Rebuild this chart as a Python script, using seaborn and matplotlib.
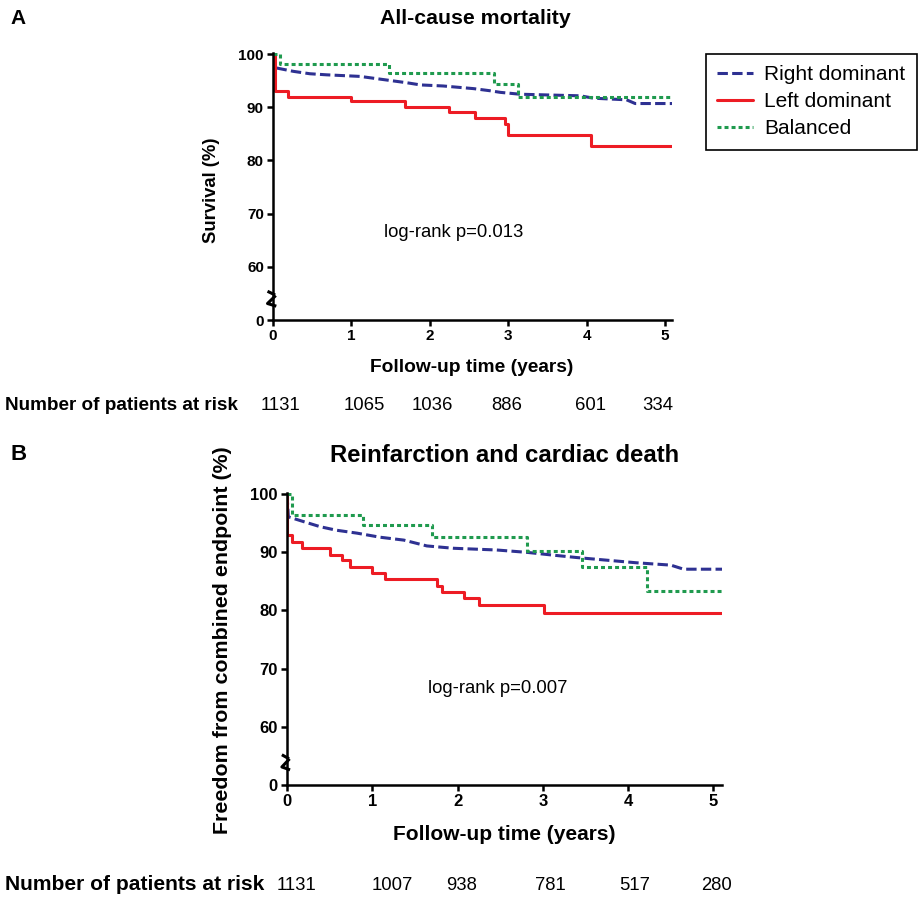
import numpy as np
import pandas as pd
import seaborn as sns
import matplotlib.pyplot as plt

# Panel A - all-cause mortality (time in years, survival in %)
a_right_t = [0, 0.038, 0.26, 0.47, 0.68, 1.11, 1.41, 1.71, 1.88, 2.17, 2.56, 2.77, 2.90, 3.15, 3.92, 4.09, 4.51, 4.62, 5.09]
a_right_v = [100, 97.4, 96.75, 96.3, 96.1, 95.8, 95.2, 94.6, 94.2, 94.0, 93.5, 93.1, 92.8, 92.45, 92.15, 91.7, 91.4, 90.7, 90.7]
a_left_t = [0, 0.02, 0.195, 1.0, 1.68, 2.25, 2.58, 2.96, 3.0, 4.06, 5.09]
a_left_v = [100, 93.0, 92.0, 91.1, 90.1, 89.1, 88.0, 86.9, 84.7, 82.8, 82.8]
a_bal_t = [0, 0.09, 1.48, 2.82, 3.13, 5.09]
a_bal_v = [100, 98.1, 96.4, 94.4, 92.0, 92.0]

# Panel B - reinfarction and cardiac death
b_right_t = [0, 0.016, 0.19, 0.39, 0.58, 0.82, 1.09, 1.37, 1.64, 1.95, 2.46, 2.81, 3.13, 3.40, 3.71, 4.10, 4.50, 4.65, 5.10]
b_right_v = [100, 96.1, 95.3, 94.4, 93.8, 93.3, 92.6, 92.1, 91.1, 90.7, 90.4, 90.0, 89.5, 89.1, 88.7, 88.2, 87.8, 87.1, 87.1]
b_left_t = [0, 0.005, 0.055, 0.18, 0.50, 0.65, 0.74, 1.0, 1.15, 1.76, 1.82, 2.07, 2.25, 3.01, 5.10]
b_left_v = [100, 93.0, 91.8, 90.7, 89.5, 88.6, 87.4, 86.4, 85.4, 84.2, 83.1, 82.1, 80.9, 79.5, 79.5]
b_bal_t = [0, 0.055, 0.89, 1.70, 2.81, 3.46, 4.22, 5.10]
b_bal_v = [100, 96.5, 94.7, 92.7, 90.3, 87.4, 83.4, 83.4]

groups = ['Right dominant', 'Left dominant', 'Balanced']
at_risk_a = [1131, 1065, 1036, 886, 601, 334]
at_risk_b = [1131, 1007, 938, 781, 517, 280]
y_ticks = [50, 60, 70, 80, 90, 100]
y_tick_labels = ['0', '60', '70', '80', '90', '100']

sns.set_style('ticks')
plt.rcParams['font.family'] = ['Liberation Sans', 'DejaVu Sans']
for key in ['text.color', 'axes.labelcolor', 'xtick.color', 'ytick.color', 'axes.edgecolor']:
    plt.rcParams[key] = 'black'

W, H = 923, 898
fig = plt.figure(figsize=(W / 100, H / 100), dpi=100)


def px(x, y):
    return x / W, 1 - y / H


styles = {
    'Right dominant': dict(color='#2e3192', linestyle=(0, (3.4, 1.4))),
    'Left dominant': dict(color='#ed1c24', linestyle='-'),
    'Balanced': dict(color='#1f9a4e', linestyle=(0, (1.3, 1.0))),
}


def draw_panel(rect, curves, xmax, tick_fs):
    ax = fig.add_axes(rect)
    for name, t, v, steps in curves:
        kw = dict(drawstyle='steps-post') if steps else {}
        sns.lineplot(x=t, y=v, ax=ax, estimator=None, sort=False, linewidth=2.2,
                     label=name, **styles[name], **kw)
    if ax.get_legend():
        ax.get_legend().remove()
    ax.set_xlim(0, xmax)
    ax.set_ylim(50, 100.2)
    ax.set_xticks(range(6))
    ax.set_yticks(y_ticks)
    ax.set_yticklabels(y_tick_labels)
    ax.set_xlabel('')
    ax.set_ylabel('')
    sns.despine(ax=ax)
    for s in ['left', 'bottom']:
        ax.spines[s].set_linewidth(1.8)
        ax.spines[s].set_clip_on(False)
    ax.tick_params(length=4.5, width=1.8, labelsize=tick_fs, pad=2)
    for lab in ax.get_xticklabels() + ax.get_yticklabels():
        lab.set_fontweight('bold')
    ax.patch.set_alpha(0)
    return ax


def draw_break(ax, dx, y_top, y_bot):
    ym = (y_top + y_bot) / 2
    ax.plot([-dx, dx * 0.4], [y_top, y_top - 0.7], color='black', lw=2.2, clip_on=False,
            solid_capstyle='butt')
    ax.plot([dx * 0.5, -dx, dx * 0.6], [ym + 0.6, y_bot + 0.5, y_bot], color='black', lw=2.2,
            clip_on=False, solid_capstyle='butt')


# Panel A
x0, y0 = px(273, 320)
x1, y1 = px(672, 53)
axA = draw_panel([x0, y0, x1 - x0, y1 - y0],
                 [('Right dominant', a_right_t, a_right_v, False),
                  ('Left dominant', a_left_t, a_left_v, True),
                  ('Balanced', a_bal_t, a_bal_v, True)], 5.09, 11)
draw_break(axA, 0.07, 55.4, 52.6)
axA.text(2.30, 66.4, 'log-rank p=0.013', ha='center', va='center', fontsize=13.3)

# Panel B
x0, y0 = px(287, 785)
x1, y1 = px(722, 493)
axB = draw_panel([x0, y0, x1 - x0, y1 - y0],
                 [('Right dominant', b_right_t, b_right_v, False),
                  ('Left dominant', b_left_t, b_left_v, True),
                  ('Balanced', b_bal_t, b_bal_v, True)], 5.10, 12)
draw_break(axB, 0.06, 55.2, 52.6)
axB.text(2.47, 66.6, 'log-rank p=0.007', ha='center', va='center', fontsize=13.3)

# Titles and labels
fig.text(*px(10, 19), 'A', fontsize=15, fontweight='bold', va='center')
fig.text(*px(475, 19), 'All-cause mortality', fontsize=15.3, fontweight='bold',
         ha='center', va='center')
fig.text(*px(10, 455), 'B', fontsize=16, fontweight='bold', va='center')
fig.text(*px(505, 455), 'Reinfarction and cardiac death', fontsize=17.2, fontweight='bold',
         ha='center', va='center')
fig.text(*px(212, 190), 'Survival (%)', rotation=90, fontsize=13.3, fontweight='bold',
         ha='center', va='center')
fig.text(*px(472, 367), 'Follow-up time (years)', fontsize=13.8, fontweight='bold',
         ha='center', va='center')
fig.text(*px(222, 640), 'Freedom from combined endpoint (%)', rotation=90, fontsize=15.4,
         fontweight='bold', ha='center', va='center')
fig.text(*px(504, 834), 'Follow-up time (years)', fontsize=15, fontweight='bold',
         ha='center', va='center')

# Number at risk rows
risk_x_a = [280, 364, 432, 507, 591, 658]
risk_x_b = [297, 392, 462, 550, 635, 716]
fig.text(*px(5, 405), 'Number of patients at risk', fontsize=13.6, fontweight='bold',
         va='center')
for xp, n in zip(risk_x_a, at_risk_a):
    fig.text(*px(xp, 405), str(n), fontsize=13.3, ha='center', va='center')
fig.text(*px(5, 885), 'Number of patients at risk', fontsize=15.1, fontweight='bold',
         va='center')
for xp, n in zip(risk_x_b, at_risk_b):
    fig.text(*px(xp, 885), str(n), fontsize=13.3, ha='center', va='center')

# Legend
handles, labels = axA.get_legend_handles_labels()
order = [labels.index(g) for g in groups]
leg = fig.legend([handles[i] for i in order], groups, loc='upper left',
                 bbox_to_anchor=px(706, 54), borderaxespad=0, fontsize=15,
                 frameon=True, fancybox=False, edgecolor='black', framealpha=1,
                 handlelength=1.7, handletextpad=0.55, labelspacing=0.38, borderpad=0.55)
leg.get_frame().set_linewidth(1.2)

fig.savefig('out.png', dpi=100)
